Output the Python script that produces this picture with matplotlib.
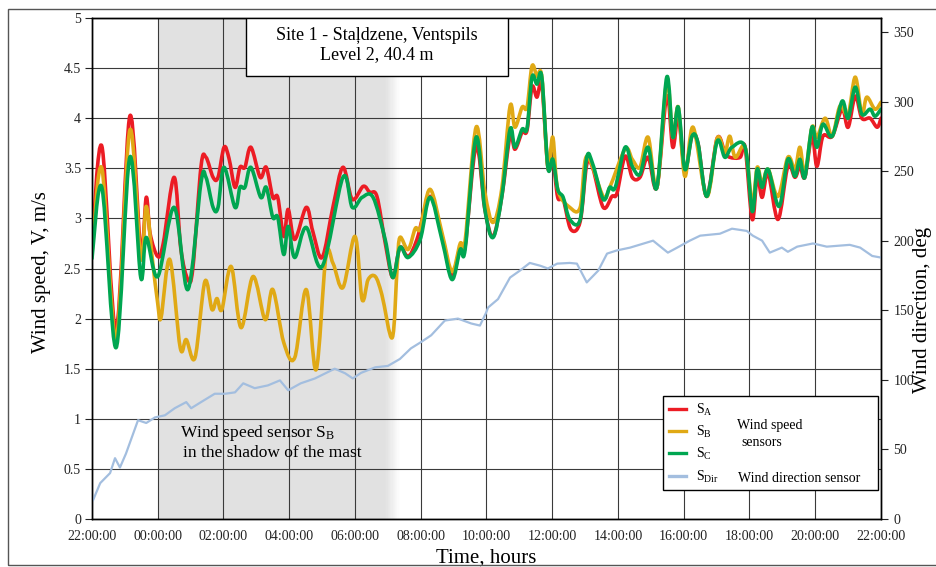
import numpy as np
import matplotlib
matplotlib.use("Agg")
import matplotlib.pyplot as plt
from matplotlib.patches import Rectangle, PathPatch
from matplotlib.path import Path
from matplotlib.lines import Line2D

plt.rcParams["font.family"] = ["Liberation Serif", "DejaVu Serif"]
plt.rcParams["mathtext.fontset"] = "custom"
plt.rcParams["mathtext.rm"] = "Liberation Serif"
plt.rcParams["mathtext.it"] = "Liberation Serif:italic"

# ---- data: minutes elapsed since 22:00, wind speed (m/s), wind direction (deg) ----
t_sa = [0, 18, 44, 69, 89, 99, 106, 120, 130, 150, 162, 175, 184, 199, 208, 221, 230, 241, 250,
        261, 270, 279, 290, 307, 318, 330, 339, 350, 358, 370, 391, 403, 420, 440, 458, 475, 495,
        507, 520, 535, 549, 562, 577, 593, 617, 639, 657, 672, 681, 701, 717, 732, 748, 763, 772,
        785, 794, 803, 812, 821, 832, 841, 850, 860, 874, 891, 903, 914, 933, 949, 958, 973, 986,
        1000, 1015, 1031, 1049, 1060, 1070, 1082, 1095, 1106, 1122, 1141, 1155, 1164, 1183, 1192,
        1205, 1214, 1223, 1234, 1252, 1270, 1283, 1292, 1301, 1314, 1323, 1334, 1351, 1369, 1380,
        1393, 1405, 1420, 1433, 1440]
sa = [2.72, 3.72, 1.89, 4.02, 2.69, 3.21, 2.85, 2.62, 2.75, 3.41, 2.70, 2.39, 2.50, 3.52, 3.61,
      3.41, 3.41, 3.71, 3.60, 3.31, 3.51, 3.51, 3.71, 3.41, 3.51, 3.21, 3.21, 2.82, 3.09, 2.79,
      3.11, 2.87, 2.61, 3.12, 3.51, 3.19, 3.32, 3.26, 3.22, 2.76, 2.41, 2.71, 2.62, 2.79, 3.22,
      2.82, 2.42, 2.72, 2.72, 3.72, 3.09, 2.82, 3.22, 3.82, 3.69, 3.86, 3.88, 4.31, 4.21, 4.33,
      3.51, 3.59, 3.21, 3.19, 2.89, 2.97, 3.54, 3.50, 3.11, 3.22, 3.25, 3.62, 3.41, 3.41, 3.61,
      3.31, 4.22, 3.71, 4.01, 3.49, 3.82, 3.75, 3.22, 3.80, 3.66, 3.61, 3.61, 3.71, 2.99, 3.42,
      3.21, 3.45, 2.99, 3.52, 3.41, 3.52, 3.41, 3.82, 3.52, 3.82, 3.82, 4.09, 3.91, 4.22, 4.00,
      4.00, 3.91, 4.00]

t_sb = [0, 18, 44, 69, 89, 99, 110, 120, 126, 142, 161, 172, 188, 206, 219, 228, 237, 254, 272,
        294, 316, 330, 350, 370, 391, 409, 427, 440, 458, 480, 493, 504, 517, 529, 548, 557, 562,
        577, 590, 599, 617, 639, 657, 672, 681, 701, 717, 732, 748, 763, 772, 785, 794, 803, 812,
        821, 832, 841, 850, 872, 891, 903, 933, 945, 973, 986, 1000, 1015, 1031, 1049, 1060, 1070,
        1082, 1097, 1122, 1141, 1155, 1164, 1174, 1192, 1205, 1214, 1223, 1234, 1252, 1270, 1283,
        1292, 1301, 1314, 1323, 1338, 1351, 1365, 1380, 1393, 1405, 1414, 1429, 1440]
sb = [2.65, 3.50, 1.80, 3.88, 2.60, 3.12, 2.60, 2.15, 2.01, 2.59, 1.71, 1.79, 1.61, 2.37, 2.09,
      2.20, 2.09, 2.52, 1.91, 2.42, 1.99, 2.29, 1.76, 1.61, 2.29, 1.49, 2.62, 2.55, 2.31, 2.82,
      2.19, 2.39, 2.42, 2.24, 1.81, 2.52, 2.81, 2.69, 2.90, 2.90, 3.29, 2.85, 2.47, 2.75, 2.78,
      3.91, 3.26, 2.96, 3.30, 4.12, 3.91, 4.11, 4.11, 4.52, 4.42, 4.41, 3.51, 3.81, 3.29, 3.11,
      3.11, 3.62, 3.22, 3.31, 3.69, 3.59, 3.51, 3.81, 3.31, 4.36, 3.81, 4.11, 3.42, 3.91, 3.22,
      3.80, 3.66, 3.82, 3.61, 3.71, 3.15, 3.51, 3.35, 3.49, 3.22, 3.61, 3.49, 3.71, 3.45, 3.91,
      3.81, 4.00, 3.82, 4.12, 4.04, 4.41, 4.04, 4.21, 4.09, 4.16]

t_sc = [0, 18, 44, 69, 89, 99, 120, 150, 175, 199, 208, 221, 230, 241, 261, 270, 279, 290, 308,
        318, 330, 339, 350, 358, 370, 391, 420, 458, 475, 493, 513, 535, 549, 562, 577, 599, 617,
        639, 657, 672, 681, 701, 717, 732, 748, 763, 772, 785, 794, 803, 812, 821, 832, 841, 850,
        860, 872, 891, 903, 914, 933, 945, 955, 973, 986, 1000, 1015, 1031, 1049, 1060, 1070,
        1082, 1095, 1106, 1122, 1141, 1155, 1168, 1192, 1205, 1214, 1223, 1234, 1254, 1270, 1283,
        1292, 1301, 1314, 1323, 1334, 1351, 1369, 1380, 1393, 1405, 1420, 1429, 1440]
sc = [2.60, 3.31, 1.71, 3.61, 2.41, 2.81, 2.42, 3.11, 2.29, 3.36, 3.41, 3.11, 3.11, 3.51, 3.11,
      3.31, 3.31, 3.51, 3.21, 3.31, 3.01, 3.01, 2.64, 2.92, 2.61, 2.91, 2.52, 3.41, 3.11, 3.21,
      3.21, 2.79, 2.41, 2.71, 2.61, 2.79, 3.21, 2.78, 2.39, 2.69, 2.69, 3.81, 3.09, 2.81, 3.22,
      3.89, 3.71, 3.89, 3.90, 4.41, 4.34, 4.41, 3.51, 3.59, 3.29, 3.21, 2.99, 2.99, 3.61, 3.54,
      3.19, 3.31, 3.31, 3.71, 3.52, 3.44, 3.71, 3.31, 4.41, 3.81, 4.11, 3.49, 3.82, 3.75, 3.22,
      3.77, 3.61, 3.71, 3.71, 3.07, 3.49, 3.31, 3.49, 3.12, 3.59, 3.42, 3.59, 3.41, 3.91, 3.71,
      3.94, 3.82, 4.17, 4.00, 4.31, 4.04, 4.09, 4.02, 4.09]

t_dir = [2, 15, 33, 42, 51, 62, 84, 99, 115, 133, 151, 172, 181, 199, 224, 243, 261, 276, 297,
         321, 343, 358, 381, 407, 443, 462, 476, 491, 517, 540, 562, 582, 600, 619, 644, 668, 692,
         708, 719, 723, 741, 763, 781, 799, 818, 832, 849, 872, 885, 903, 924, 940, 958, 982,
         1024, 1051, 1068, 1091, 1110, 1146, 1168, 1195, 1206, 1223, 1237, 1259, 1270, 1287,
         1316, 1341, 1383, 1402, 1424, 1438]
s_dir = [13.6, 25.8, 33.0, 43.7, 37.0, 47.0, 71.0, 69.0, 73.0, 74.5, 79.6, 84.0, 79.6, 84.0,
         90.0, 90.0, 91.0, 97.5, 94.0, 96.0, 99.6, 92.5, 97.5, 101.0, 108.0, 104.7, 101.0, 105.0,
         109.0, 110.0, 115.0, 122.6, 127.0, 132.0, 142.6, 144.0, 140.5, 139.0, 148.0, 152.0,
         158.0, 173.5, 178.5, 184.0, 182.0, 180.0, 183.5, 184.0, 183.5, 170.0, 178.5, 190.7,
         193.0, 195.0, 200.0, 191.4, 195.0, 200.0, 203.6, 205.0, 208.6, 207.0, 203.6, 200.0,
         191.4, 195.0, 192.0, 195.7, 198.0, 195.7, 197.0, 195.0, 189.0, 188.0]

time_labels = ["22:00:00", "00:00:00", "02:00:00", "04:00:00", "06:00:00", "08:00:00",
               "10:00:00", "12:00:00", "14:00:00", "16:00:00", "18:00:00", "20:00:00", "22:00:00"]
speed_labels = ["0", "0.5", "1", "1.5", "2", "2.5", "3", "3.5", "4", "4.5", "5"]
dir_labels = ["0", "50", "100", "150", "200", "250", "300", "350"]

shadow_start, shadow_end = 120, 562   # minutes since 22:00


def smooth_line(axis, t, v, color, lw, z):
    """Draw a series as a smoothed (Catmull-Rom / cubic Bezier) curve through its points."""
    x = np.asarray(t, float) / 60.0
    y = np.asarray(v, float)
    p = np.column_stack([x, y])
    pe = np.vstack([p[0], p, p[-1]])
    verts = [p[0]]
    codes = [Path.MOVETO]
    for i in range(len(p) - 1):
        p0, p1, p2, p3 = pe[i], pe[i + 1], pe[i + 2], pe[i + 3]
        verts += [p1 + (p2 - p0) / 6.0, p2 - (p3 - p1) / 6.0, p2]
        codes += [Path.CURVE4] * 3
    patch = PathPatch(Path(verts, codes), fill=False, edgecolor=color, lw=lw,
                      joinstyle="round", capstyle="round", zorder=z)
    axis.add_patch(patch)


# ---- figure ----
W, H = 937, 567
fig = plt.figure(figsize=(W / 100, H / 100), dpi=100)
ax = fig.add_axes([92 / W, 1 - 519 / H, (881 - 92) / W, (519 - 18) / H])
ax2 = ax.twinx()

# outer frame
fig.patches.append(Rectangle((8 / W, 2 / H), 1.0, 1 - 9 / H - 2 / H, transform=fig.transFigure,
                             fill=False, edgecolor="#555555", lw=1.0))

# shaded period with a soft right edge
s0, s1 = shadow_start / 60, shadow_end / 60
fade = 0.45
ax.axvspan(s0, s1 - fade, color="#e1e1e1", lw=0, zorder=0.2)
n = 12
for i in range(n):
    a = 1 - (i + 0.5) / n
    ax.axvspan(s1 - fade + fade * i / n, s1 - fade + fade * (i + 1) / n, color="#e1e1e1",
               alpha=a, lw=0, zorder=0.2)

c_a, c_b, c_c, c_dir = "#ec1c24", "#e0a915", "#00a651", "#a3bedf"
smooth_line(ax, t_sa, sa, c_a, 2.6, 3.0)
smooth_line(ax, t_sb, sb, c_b, 2.6, 3.1)
smooth_line(ax, t_sc, sc, c_c, 2.6, 3.2)
ax2.plot(np.asarray(t_dir) / 60.0, s_dir, color=c_dir, lw=1.6, zorder=2)

ax.set_xlim(0, 24)
ax.set_ylim(0, 5)
ax2.set_ylim(0, 360)
ax.set_xticks(np.arange(0, 25, 2))
ax.set_xticklabels(time_labels)
ax.set_yticks(np.arange(0, 5.01, 0.5))
ax.set_yticklabels(speed_labels)
ax2.set_yticks(np.arange(0, 351, 50))
ax2.set_yticklabels(dir_labels)

ax.set_axisbelow(True)
ax.grid(True, color="#3a3a3a", lw=0.8)
for sp in list(ax.spines.values()) + list(ax2.spines.values()):
    sp.set_color("black")
    sp.set_linewidth(1.0)

ax.tick_params(axis="x", length=0, pad=8, labelsize=10, colors="#222222")
ax.tick_params(axis="y", direction="out", length=5, width=0.8, pad=3, labelsize=10,
               colors="#222222")
ax2.tick_params(axis="y", direction="out", length=5, width=0.8, pad=4, labelsize=10,
                colors="#222222")

ax.set_ylabel("Wind speed, V, m/s", fontsize=15)
ax.yaxis.set_label_coords(-0.052, 0.493)
ax2.set_ylabel("Wind direction, deg", fontsize=15)
ax2.yaxis.set_label_coords(1.040, 0.417)
ax.set_xlabel("Time, hours", fontsize=15)
ax.xaxis.set_label_coords(0.5, -0.058)

# title box
bx0, bx1, by0, by1 = (246 - 92) / 789, (508 - 92) / 789, (519 - 76) / 501, (519 - 18) / 501
ax2.add_patch(Rectangle((bx0, by0), bx1 - bx0, by1 - by0, transform=ax2.transAxes,
                        facecolor="white", edgecolor="black", lw=1.0, zorder=5))
ax2.text((bx0 + bx1) / 2, (519 - 35) / 501, "Site 1 - Staļdzene, Ventspils", transform=ax2.transAxes,
         ha="center", va="center", fontsize=13, zorder=6)
ax2.text((bx0 + bx1) / 2, (519 - 55) / 501, "Level 2, 40.4 m", transform=ax2.transAxes,
         ha="center", va="center", fontsize=13, zorder=6)

# note about the shaded period
ax.text(161 / 60, 0.86, r"Wind speed sensor S$_\mathrm{B}$", fontsize=12.5, ha="left",
        va="center", zorder=4)
ax.text(166 / 60, 0.66, "in the shadow of the mast", fontsize=12.5, ha="left", va="center",
        zorder=4)

# legend
handles = [Line2D([], [], color=c, lw=2.4) for c in (c_a, c_b, c_c, c_dir)]
labels = [r"S$_\mathrm{A}$", r"S$_\mathrm{B}$", r"S$_\mathrm{C}$", r"S$_\mathrm{Dir}$"]
lx0, lx1 = (663 - 92) / 789, (878 - 92) / 789
ly1 = (519 - 396) / 501
leg = ax2.legend(handles, labels, loc="upper left", bbox_to_anchor=(lx0, ly1, lx1 - lx0, 0),
                 mode="expand", borderaxespad=0, fontsize=10, handlelength=1.25,
                 handletextpad=0.7, labelspacing=0.45, borderpad=0.4, fancybox=False,
                 framealpha=1, edgecolor="black")
leg.get_frame().set_linewidth(1.0)
leg.set_zorder(6)

fig.text(737 / W, 1 - 426 / H, "Wind speed", fontsize=10, ha="left", va="center", zorder=7)
fig.text(741 / W, 1 - 442 / H, "sensors", fontsize=10, ha="left", va="center", zorder=7)
fig.text(738 / W, 1 - 478 / H, "Wind direction sensor", fontsize=10, ha="left", va="center",
         zorder=7)

fig.savefig("out.png", dpi=100)
